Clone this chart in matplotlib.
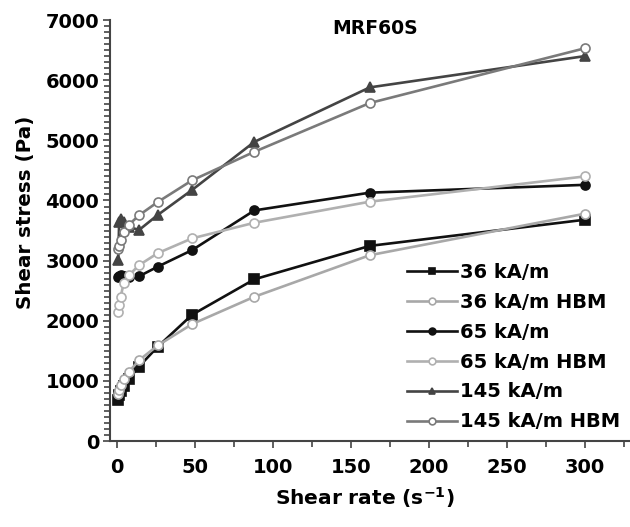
import matplotlib.pyplot as plt
from matplotlib.ticker import MultipleLocator

plt.rcParams["font.family"] = ["DejaVu Sans"]
plt.rcParams["font.weight"] = "bold"
plt.rcParams["mathtext.default"] = "bf"

# shear rate (1/s)
rate = [0.65, 1.2, 2.2, 4.1, 7.6, 14, 26, 48, 88, 162, 300]

# shear stress (Pa)
s36 = [690, 760, 830, 920, 1040, 1240, 1570, 2100, 2690, 3245, 3680]
s36_hbm = [780, 850, 930, 1040, 1155, 1345, 1590, 1945, 2400, 3090, 3780]
s65 = [2720, 2750, 2760, 2740, 2720, 2740, 2900, 3175, 3835, 4130, 4260]
s65_hbm = [2150, 2260, 2400, 2625, 2760, 2925, 3125, 3370, 3630, 3980, 4400]
s145 = [3010, 3640, 3690, 3640, 3560, 3510, 3760, 4175, 4975, 5880, 6400]
s145_hbm = [3200, 3240, 3350, 3480, 3600, 3755, 3975, 4335, 4810, 5620, 6530]

labels = ["36 kA/m", "36 kA/m HBM", "65 kA/m", "65 kA/m HBM",
          "145 kA/m", "145 kA/m HBM"]
series = [s36, s36_hbm, s65, s65_hbm, s145, s145_hbm]
colors = ["#111111", "#a8a8a8", "#111111", "#b0b0b0", "#444444", "#7a7a7a"]
markers = ["s", "o", "o", "o", "^", "o"]
filled = [True, False, True, False, True, False]

fig = plt.figure(figsize=(6.3, 5.27), dpi=100)
ax = fig.add_axes([0.175, 0.163, 0.825, 0.799])

for ys, lab, c, m, f in zip(series, labels, colors, markers, filled):
    ax.plot(rate, ys, color=c, marker=m, markersize=6.5, linewidth=1.9,
            markerfacecolor=c if f else "white", markeredgecolor=c,
            markeredgewidth=1.2, label=lab)

ax.set_xlim(-4.5, 329)
ax.set_ylim(0, 7000)
ax.xaxis.set_major_locator(MultipleLocator(50))
ax.xaxis.set_minor_locator(MultipleLocator(25))
ax.yaxis.set_major_locator(MultipleLocator(1000))
ax.yaxis.set_minor_locator(MultipleLocator(100))
ax.tick_params(which="both", direction="out", labelsize=14, width=1.2,
               color="#444444")
ax.tick_params(which="major", length=5)
ax.tick_params(which="minor", length=4)
ax.tick_params(axis="x", pad=7)
ax.tick_params(axis="y", pad=3)
ax.spines["top"].set_visible(False)
ax.spines["right"].set_visible(False)
ax.spines["left"].set_color("#444444")
ax.spines["bottom"].set_color("#444444")
ax.spines["left"].set_linewidth(1.5)
ax.spines["bottom"].set_linewidth(1.5)

ax.set_xlabel("Shear rate (s$^{-1}$)", fontsize=14.5, fontweight="bold")
ax.set_ylabel("Shear stress (Pa)", fontsize=14.3, fontweight="bold")
ax.xaxis.set_label_coords(0.49, -0.105)
ax.yaxis.set_label_coords(-0.145, 0.544)
ax.text(0.51, 0.979, "MRF60S", transform=ax.transAxes, fontsize=13.5,
        fontweight="bold", ha="center", va="center")

ax.legend(loc="lower right", bbox_to_anchor=(1.0, 0.0), frameon=False,
          fontsize=14, handlelength=2.6, handletextpad=0.15, labelspacing=0.56,
          borderaxespad=0.1, markerscale=0.75)

fig.savefig("out.png", dpi=100)
